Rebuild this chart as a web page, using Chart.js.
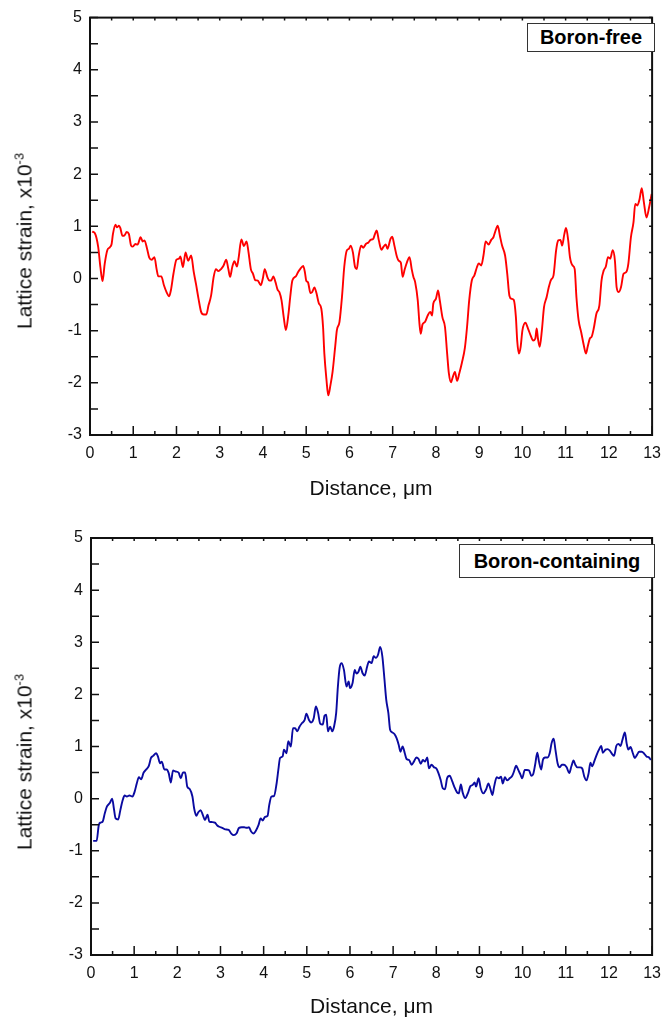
<!DOCTYPE html>
<html>
<head>
<meta charset="utf-8">
<script src="https://cdn.jsdelivr.net/npm/chart.js@4.4.1/dist/chart.umd.min.js"></script>
<style>
  body { margin: 0; background: #fff; }
  #wrap { position: relative; width: 670px; height: 1020px; font-family: "Liberation Sans", Arial, sans-serif; }
  .panel { position: absolute; left: 0; width: 670px; }
  .ytitle { position: absolute; white-space: nowrap; font-size: 21px; color: #111;
            transform: translate(-50%, -50%) rotate(-90deg); }
  .ytitle sup { font-size: 13px; vertical-align: 8px; }
  .tag { position: absolute; border: 1px solid #333; font-weight: bold; font-size: 20px; color: #000;
         display: flex; align-items: center; justify-content: center; box-sizing: border-box; background: #fff; }
</style>
</head>
<body>
<div id="wrap">
  <div class="panel" style="top:0;height:510px">
    <canvas id="freeChart" width="670" height="510"></canvas>
    <div class="ytitle" style="left:24px;top:241px">Lattice strain, x10<sup>-3</sup></div>
    <div class="tag" style="left:527px;top:23px;width:128px;height:29px">Boron-free</div>
  </div>
  <div class="panel" style="top:520px;height:500px">
    <canvas id="boronChart" width="670" height="500"></canvas>
    <div class="ytitle" style="left:24px;top:242px">Lattice strain, x10<sup>-3</sup></div>
    <div class="tag" style="left:459px;top:24px;width:196px;height:34px">Boron-containing</div>
  </div>
</div>
<script>
// boron-free profile
let freeDist = [
    0.05,0.11,0.19,0.24,0.29,0.34,0.40,0.46,0.50,0.53,
    0.59,0.62,0.67,0.70,0.75,0.79,0.85,0.90,0.95,0.99,
    1.05,1.10,1.17,1.22,1.26,1.32,1.37,1.43,1.49,1.54,
    1.58,1.65,1.71,1.77,1.83,1.87,1.93,2.00,2.06,2.09,
    2.15,2.21,2.27,2.34,2.40,2.45,2.51,2.57,2.63,2.69,
    2.74,2.80,2.86,2.91,2.97,3.03,3.09,3.15,3.20,3.24,
    3.29,3.34,3.40,3.44,3.50,3.56,3.62,3.66,3.72,3.77,
    3.82,3.88,3.95,4.00,4.04,4.10,4.15,4.19,4.24,4.29,
    4.34,4.38,4.43,4.48,4.53,4.59,4.63,4.68,4.76,4.81,
    4.86,4.93,4.97,5.00,5.04,5.10,5.14,5.19,5.24,5.29,
    5.35,5.39,5.42,5.47,5.51,5.56,5.61,5.67,5.71,5.77,
    5.83,5.88,5.94,5.99,6.03,6.08,6.13,6.17,6.21,6.27,
    6.32,6.38,6.44,6.49,6.55,6.59,6.63,6.68,6.74,6.79,
    6.84,6.88,6.95,6.99,7.04,7.10,7.14,7.19,7.23,7.28,
    7.33,7.39,7.44,7.48,7.52,7.58,7.62,7.65,7.69,7.75,
    7.81,7.87,7.91,7.94,8.00,8.05,8.09,8.15,8.21,8.26,
    8.30,8.35,8.39,8.44,8.49,8.54,8.60,8.67,8.72,8.77,
    8.83,8.89,8.95,8.99,9.05,9.10,9.15,9.22,9.28,9.33,
    9.38,9.43,9.48,9.53,9.60,9.65,9.70,9.75,9.80,9.85,
    9.88,9.92,9.96,10.00,10.07,10.13,10.19,10.25,10.30,10.33,
    10.36,10.40,10.45,10.50,10.56,10.61,10.66,10.72,10.78,10.83,
    10.88,10.92,10.97,11.01,11.06,11.10,11.16,11.21,11.25,11.30,
    11.36,11.42,11.47,11.51,11.56,11.60,11.65,11.71,11.78,11.83,
    11.88,11.93,11.98,12.03,12.09,12.14,12.18,12.23,12.28,12.34,
    12.40,12.45,12.51,12.57,12.61,12.66,12.71,12.76,12.81,12.87,
    12.93,12.99
];
let freeStrain = [
    0.90,0.87,0.60,0.22,-0.05,0.28,0.54,0.60,0.66,0.85,
    1.03,0.98,1.01,0.97,0.82,0.82,0.89,0.85,0.63,0.61,
    0.66,0.65,0.79,0.71,0.73,0.57,0.40,0.36,0.41,0.18,
    0.04,0.04,-0.13,-0.26,-0.34,-0.23,0.09,0.36,0.38,0.42,
    0.22,0.50,0.34,0.44,0.12,-0.10,-0.39,-0.64,-0.69,-0.69,
    -0.52,-0.33,0.03,0.18,0.14,0.18,0.25,0.36,0.18,0.03,
    0.22,0.33,0.23,0.41,0.75,0.62,0.71,0.54,0.18,0.09,
    -0.03,-0.04,-0.13,0.01,0.18,0.03,-0.04,-0.04,0.04,-0.07,
    -0.22,-0.26,-0.42,-0.74,-0.99,-0.68,-0.36,-0.04,0.04,0.12,
    0.18,0.24,0.12,-0.04,-0.07,-0.28,-0.26,-0.17,-0.29,-0.47,
    -0.58,-0.93,-1.44,-1.95,-2.24,-2.05,-1.79,-1.31,-0.99,-0.83,
    -0.33,0.22,0.54,0.57,0.63,0.50,0.22,0.18,0.41,0.63,
    0.59,0.66,0.69,0.74,0.76,0.85,0.92,0.73,0.55,0.61,
    0.65,0.57,0.76,0.80,0.63,0.41,0.34,0.30,0.03,0.18,
    0.31,0.41,0.18,0.03,-0.07,-0.42,-0.87,-1.06,-0.88,-0.83,
    -0.71,-0.64,-0.71,-0.48,-0.39,-0.23,-0.42,-0.74,-0.93,-1.44,
    -1.82,-1.99,-1.89,-1.79,-1.96,-1.82,-1.62,-1.33,-0.93,-0.42,
    -0.04,0.06,0.22,0.29,0.25,0.44,0.71,0.65,0.74,0.79,
    0.92,1.01,0.82,0.63,0.44,0.09,-0.33,-0.39,-0.41,-0.74,
    -1.19,-1.44,-1.31,-1.00,-0.85,-0.96,-1.09,-1.19,-1.15,-0.96,
    -1.15,-1.31,-1.00,-0.55,-0.36,-0.17,-0.03,0.06,0.54,0.73,
    0.74,0.63,0.85,0.97,0.73,0.41,0.25,0.18,-0.36,-0.80,
    -1.03,-1.28,-1.44,-1.31,-1.15,-1.12,-0.96,-0.68,-0.52,-0.04,
    0.15,0.23,0.41,0.38,0.54,0.34,-0.17,-0.26,-0.17,0.09,
    0.12,0.28,0.79,1.08,1.43,1.40,1.52,1.73,1.46,1.17,
    1.36,1.62
];

// boron-containing profile
let boronDist = [
    0.05,0.13,0.18,0.22,0.27,0.32,0.37,0.44,0.49,0.53,
    0.57,0.63,0.68,0.73,0.78,0.83,0.89,0.96,1.01,1.06,
    1.11,1.16,1.22,1.28,1.34,1.39,1.44,1.51,1.55,1.60,
    1.64,1.70,1.75,1.80,1.85,1.90,1.96,2.03,2.08,2.13,
    2.18,2.23,2.29,2.35,2.39,2.44,2.48,2.54,2.59,2.64,
    2.70,2.74,2.81,2.87,2.92,2.97,3.04,3.11,3.19,3.25,
    3.31,3.37,3.43,3.49,3.55,3.61,3.66,3.71,3.76,3.81,
    3.88,3.93,3.98,4.03,4.09,4.13,4.18,4.24,4.30,4.34,
    4.38,4.44,4.47,4.53,4.57,4.63,4.68,4.73,4.78,4.83,
    4.89,4.95,4.99,5.05,5.10,5.16,5.21,5.26,5.31,5.37,
    5.41,5.45,5.49,5.54,5.59,5.63,5.68,5.72,5.76,5.81,
    5.86,5.92,5.97,6.00,6.06,6.11,6.15,6.20,6.24,6.29,
    6.34,6.40,6.44,6.50,6.55,6.60,6.65,6.70,6.75,6.80,
    6.84,6.89,6.93,6.98,7.03,7.08,7.13,7.17,7.22,7.27,
    7.31,7.37,7.43,7.48,7.54,7.59,7.64,7.69,7.74,7.79,
    7.83,7.89,7.95,8.00,8.05,8.10,8.15,8.20,8.25,8.31,
    8.37,8.42,8.48,8.52,8.57,8.61,8.67,8.73,8.79,8.84,
    8.89,8.92,8.98,9.03,9.09,9.15,9.21,9.25,9.30,9.34,
    9.40,9.45,9.50,9.54,9.59,9.64,9.70,9.76,9.80,9.85,
    9.90,9.95,9.99,10.05,10.10,10.15,10.20,10.24,10.29,10.34,
    10.38,10.43,10.47,10.52,10.58,10.63,10.67,10.72,10.76,10.81,
    10.86,10.91,10.96,11.02,11.08,11.13,11.18,11.22,11.27,11.33,
    11.38,11.43,11.48,11.53,11.57,11.61,11.67,11.73,11.77,11.82,
    11.86,11.92,11.97,12.02,12.07,12.12,12.17,12.22,12.27,12.31,
    12.37,12.41,12.45,12.50,12.55,12.60,12.65,12.70,12.76,12.82,
    12.87,12.93,12.97
];
let boronStrain = [
    -0.81,-0.81,-0.51,-0.46,-0.44,-0.28,-0.15,-0.08,0.00,-0.19,
    -0.38,-0.40,-0.22,-0.04,0.06,0.04,0.06,0.04,0.13,0.29,
    0.41,0.37,0.50,0.56,0.63,0.78,0.82,0.87,0.81,0.68,
    0.71,0.56,0.56,0.49,0.31,0.54,0.52,0.50,0.39,0.50,
    0.50,0.23,0.18,0.04,-0.19,-0.33,-0.27,-0.22,-0.31,-0.41,
    -0.31,-0.44,-0.45,-0.46,-0.51,-0.54,-0.56,-0.59,-0.60,-0.67,
    -0.70,-0.67,-0.56,-0.55,-0.55,-0.56,-0.55,-0.63,-0.67,-0.63,
    -0.51,-0.38,-0.42,-0.35,-0.33,-0.12,0.04,0.05,0.29,0.55,
    0.78,0.81,0.94,0.87,1.10,1.00,1.35,1.35,1.29,1.38,
    1.45,1.51,1.63,1.51,1.46,1.54,1.77,1.65,1.44,1.42,
    1.59,1.61,1.29,1.38,1.29,1.38,1.64,2.15,2.51,2.60,
    2.47,2.15,2.25,2.12,2.22,2.47,2.40,2.44,2.53,2.41,
    2.36,2.54,2.63,2.60,2.73,2.70,2.76,2.91,2.73,2.28,
    1.90,1.64,1.32,1.27,1.24,1.16,1.03,0.90,1.00,0.87,
    0.76,0.74,0.65,0.71,0.79,0.76,0.67,0.74,0.71,0.79,
    0.58,0.65,0.60,0.58,0.49,0.36,0.20,0.18,0.39,0.44,
    0.33,0.22,0.12,0.10,0.27,0.12,0.01,0.10,0.24,0.26,
    0.31,0.23,0.39,0.20,0.10,0.17,0.29,0.20,0.07,0.23,
    0.41,0.39,0.42,0.29,0.41,0.35,0.39,0.44,0.52,0.63,
    0.55,0.46,0.39,0.55,0.55,0.54,0.44,0.46,0.65,0.88,
    0.71,0.56,0.74,0.79,0.79,0.88,1.06,1.15,0.94,0.68,
    0.60,0.65,0.65,0.60,0.49,0.62,0.73,0.65,0.60,0.60,
    0.58,0.42,0.35,0.49,0.69,0.62,0.74,0.87,0.94,1.01,
    0.88,0.94,0.95,0.92,0.86,0.82,1.01,1.05,1.01,1.12,
    1.27,1.06,0.94,0.99,0.88,0.78,0.84,0.90,0.90,0.86,
    0.81,0.79,0.74
];

let xTicks = [0, 1, 2, 3, 4, 5, 6, 7, 8, 9, 10, 11, 12, 13];
let yTicks = [-3, -2, -1, 0, 1, 2, 3, 4, 5];

const font = { family: '"Liberation Sans", Arial, sans-serif', size: 16 };

// frame + inward ticks, like the origin-style plot
const frameTicks = {
    id: 'frameTicks',
    afterDraw(chart) {
        const { ctx, chartArea: a, scales: { x, y } } = chart;
        ctx.save();
        ctx.strokeStyle = '#111';
        ctx.lineWidth = 2;
        ctx.strokeRect(a.left, a.top, a.right - a.left, a.bottom - a.top);
        ctx.lineWidth = 1.5;
        ctx.beginPath();
        for (let v = xTicks[0]; v <= xTicks[xTicks.length - 1] + 1e-9; v += 0.5) {
            const px = x.getPixelForValue(v);
            const major = Math.abs(v - Math.round(v)) < 1e-9;
            ctx.moveTo(px, a.bottom);
            ctx.lineTo(px, a.bottom - (major ? 9 : 4));
            ctx.moveTo(px, a.top);
            ctx.lineTo(px, a.top + 3);
        }
        for (let v = yTicks[0]; v <= yTicks[yTicks.length - 1] + 1e-9; v += 0.5) {
            const py = y.getPixelForValue(v);
            ctx.moveTo(a.left, py);
            ctx.lineTo(a.left + 8, py);
            ctx.moveTo(a.right, py);
            ctx.lineTo(a.right - 3, py);
        }
        ctx.stroke();
        ctx.restore();
    }
};

function makeChart(id, dist, strain, color, pad, xHeight, yWidth, titlePad) {
    let points = dist.map((d, i) => ({ x: d, y: strain[i] }));
    return new Chart(document.getElementById(id), {
        type: 'line',
        data: {
            datasets: [{
                data: points,
                borderColor: color,
                borderWidth: 1.9,
                pointRadius: 0,
                cubicInterpolationMode: 'monotone',
                fill: false
            }]
        },
        options: {
            responsive: false,
            animation: false,
            layout: { padding: pad },
            plugins: { legend: { display: false }, tooltip: { enabled: false } },
            scales: {
                x: {
                    type: 'linear',
                    min: 0,
                    max: 13,
                    afterBuildTicks: s => { s.ticks = xTicks.map(v => ({ value: v })); },
                    afterFit: s => { s.height = xHeight; },
                    grid: { display: false, drawTicks: false },
                    border: { display: false },
                    ticks: { font: font, color: '#111', padding: 9, maxRotation: 0, autoSkip: false },
                    title: {
                        display: true,
                        text: 'Distance, \u03bcm',
                        font: { family: font.family, size: 21 },
                        color: '#111',
                        padding: { top: 0, bottom: titlePad }
                    }
                },
                y: {
                    min: -3,
                    max: 5,
                    afterBuildTicks: s => { s.ticks = yTicks.map(v => ({ value: v })); },
                    afterFit: s => { s.width = yWidth; },
                    grid: { display: false, drawTicks: false },
                    border: { display: false },
                    ticks: { font: font, color: '#111', padding: 8 }
                }
            }
        },
        plugins: [frameTicks]
    });
}

makeChart('freeChart', freeDist, freeStrain, '#ff0000', { top: 17, right: 11, left: 0, bottom: 0 }, 75, 90, 8);
makeChart('boronChart', boronDist, boronStrain, '#0a0aa0', { top: 18, right: 11, left: 0, bottom: 0 }, 65, 91, 0);
</script>
</body>
</html>
